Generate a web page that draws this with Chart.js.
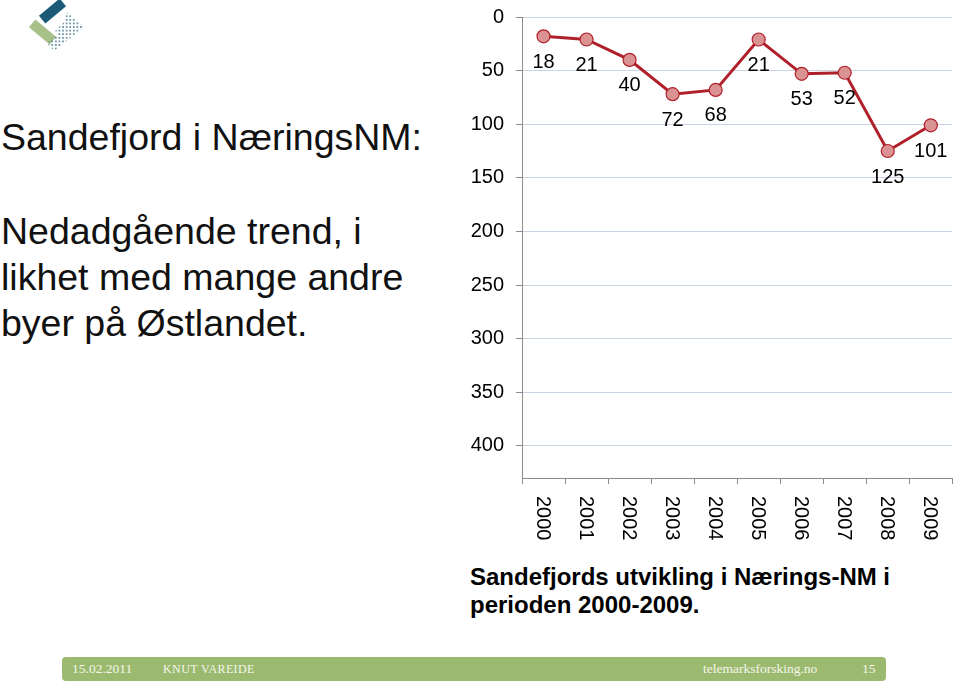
<!DOCTYPE html>
<html>
<head>
<meta charset="utf-8">
<script src="https://cdn.jsdelivr.net/npm/chart.js@4"></script>
<style>
  html, body { margin: 0; padding: 0; background: #fff; }
  body { width: 960px; height: 684px; position: relative; overflow: hidden; font-family: "Liberation Sans", Arial, sans-serif; }
  #logo { position: absolute; left: 0; top: 0; }
  .lead { position: absolute; left: 1px; color: #111; font-size: 37.5px; line-height: 46px; white-space: nowrap; }
  #caption { position: absolute; left: 470px; top: 563px; font-weight: bold; font-size: 24px; line-height: 28px; color: #000; white-space: nowrap; }
  #chartBox { position: absolute; left: 440px; top: 0; width: 520px; height: 560px; }
  #footer { position: absolute; left: 62px; top: 657px; width: 824px; height: 24px; background: #9bba70; border-radius: 4px;
            font-family: "Liberation Serif", "DejaVu Serif", serif; font-size: 13.5px; color: #f6f6ea; line-height: 24px; }
  #footer span { position: absolute; top: 0; }
</style>
</head>
<body>
<svg id="logo" width="100" height="60" viewBox="0 0 100 60">
  <defs>
    <pattern id="dots" width="3.6" height="3.6" patternUnits="userSpaceOnUse">
      <circle cx="1.8" cy="1.8" r="0.85" fill="#2f6a7d"/>
    </pattern>
  </defs>
  <rect x="39" y="6" width="27" height="10" fill="#1c5a78" transform="rotate(-40 52.5 11)"/>
  <rect x="29" y="27" width="27" height="10" fill="#a8c18a" transform="rotate(40 42.5 32)"/>
  <path d="M67 12 L84 27 L54 51 L47 43 L58 34 L55 31 L64 22 Z" fill="url(#dots)"/>
</svg>

<div class="lead" style="top:114px">Sandefjord i NæringsNM:</div>
<div class="lead" style="top:208px">Nedadgående trend, i<br>likhet med mange andre<br>byer på Østlandet.</div>

<div id="chartBox"><canvas id="chart" width="520" height="560"></canvas></div>

<div id="caption">Sandefjords utvikling i Nærings-NM i<br>perioden 2000-2009.</div>

<div id="footer">
  <span style="left:10px">15.02.2011</span>
  <span style="left:101px; font-size:12px; letter-spacing:0.4px">KNUT VAREIDE</span>
  <span style="left:641px">telemarksforsking.no</span>
  <span style="left:800px">15</span>
</div>

<script>
const years = ["2000", "2001", "2002", "2003", "2004", "2005", "2006", "2007", "2008", "2009"];
const ranks = [18, 21, 40, 72, 68, 21, 53, 52, 125, 101];
const rankTicks = [0, 50, 100, 150, 200, 250, 300, 350, 400];

const lineColor = '#b0202a';
const pointFill = '#da9292';

// x labels drawn turned clockwise, like the original slide
const verticalLabels = {
    id: 'verticalLabels',
    afterDraw(chart) {
        const ctx = chart.ctx;
        const x = chart.scales.x;
        ctx.save();
        ctx.font = '20px "Liberation Sans", Arial, sans-serif';
        ctx.fillStyle = '#000';
        ctx.textAlign = 'left';
        ctx.textBaseline = 'middle';
        years.forEach((y, i) => {
            ctx.save();
            ctx.translate(x.getPixelForValue(i) - 1, x.top + 18);
            ctx.rotate(Math.PI / 2);
            ctx.fillText(y, 0, 0);
            ctx.restore();
        });
        ctx.restore();
    }
};

// value labels under each point
const valueLabels = {
    id: 'valueLabels',
    afterDatasetsDraw(chart) {
        const ctx = chart.ctx;
        const meta = chart.getDatasetMeta(0);
        ctx.save();
        ctx.font = '20px "Liberation Sans", Arial, sans-serif';
        ctx.fillStyle = '#000';
        ctx.textAlign = 'center';
        ctx.textBaseline = 'middle';
        meta.data.forEach((pt, i) => {
            ctx.fillText(String(ranks[i]), pt.x, pt.y + 26);
        });
        ctx.restore();
    }
};

const ctx = document.getElementById('chart').getContext('2d');
new Chart(ctx, {
    type: 'line',
    data: {
        labels: years,
        datasets: [{
            data: ranks,
            borderColor: lineColor,
            borderWidth: 3,
            backgroundColor: pointFill,
            pointBackgroundColor: pointFill,
            pointBorderColor: lineColor,
            pointBorderWidth: 1.2,
            pointRadius: 6.5,
            tension: 0,
            fill: false
        }]
    },
    options: {
        responsive: false,
        animation: false,
        layout: { padding: { top: 17, right: 2, left: 0, bottom: 0 } },
        plugins: {
            legend: { display: false },
            tooltip: { enabled: false }
        },
        scales: {
            x: {
                offset: true,
                grid: {
                    offset: true,
                    drawOnChartArea: false,
                    drawTicks: true,
                    tickLength: 6,
                    tickColor: '#8c8c8c'
                },
                border: { color: '#8c8c8c', width: 1 },
                ticks: { display: false },
                afterFit(scale) {
                    scale.height = 82;
                    scale.paddingLeft = 0;
                    scale.paddingRight = 0;
                }
            },
            y: {
                reverse: true,
                min: 0,
                max: 430,
                afterBuildTicks(scale) {
                    scale.ticks = rankTicks.map(v => ({ value: v }));
                },
                ticks: {
                    color: '#000',
                    padding: 12,
                    font: { family: '"Liberation Sans", Arial, sans-serif', size: 20 }
                },
                grid: {
                    color: '#c8d4e1',
                    tickColor: '#8c8c8c',
                    tickLength: 6
                },
                border: { color: '#8c8c8c', width: 1 },
                afterFit(scale) {
                    scale.width = 82;
                    scale.paddingTop = 0;
                    scale.paddingBottom = 0;
                }
            }
        }
    },
    plugins: [valueLabels, verticalLabels]
});
</script>
</body>
</html>
